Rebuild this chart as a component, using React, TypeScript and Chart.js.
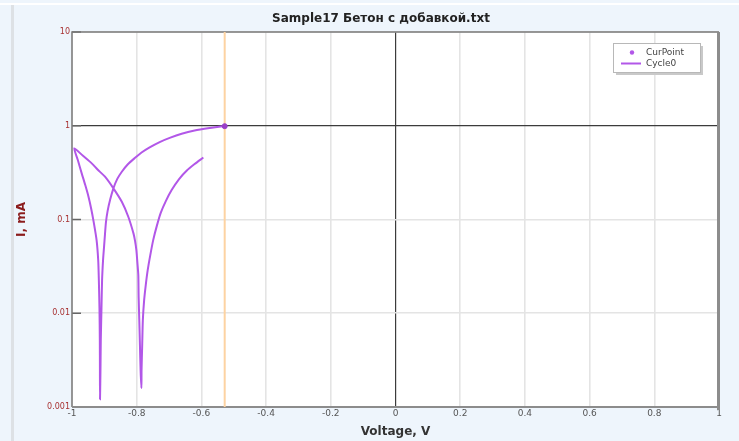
import React, { useEffect, useRef } from 'react';
import { Chart, registerables } from 'chart.js';

Chart.register(...registerables);

const chartTitle = 'Sample17 Бетон с добавкой.txt';
const xAxisTitle = 'Voltage, V';
const yAxisTitle = 'I, mA';

const xTickValues = [-1, -0.8, -0.6, -0.4, -0.2, 0, 0.2, 0.4, 0.6, 0.8, 1];
const xTickLabels = ['-1', '-0.8', '-0.6', '-0.4', '-0.2', '0', '0.2', '0.4', '0.6', '0.8', '1'];
const yTickValues = [0.001, 0.01, 0.1, 1, 10];
const yTickLabels = ['0.001', '0.01', '0.1', '1', '10'];

const legendLabels = ['CurPoint', 'Cycle0'];

// Cycle0: scan from -0.59 V toward -0.99 V and back to -0.53 V
const cycleVoltage = [
  -0.594, -0.621, -0.645, -0.669, -0.692, -0.710, -0.726, -0.738, -0.749, -0.758, -0.766, -0.772, -0.777, -0.781, -0.783, -0.785, -0.7854,
  -0.788, -0.790, -0.792, -0.794, -0.795, -0.798, -0.801, -0.805, -0.810, -0.826, -0.846, -0.872, -0.898, -0.921, -0.939, -0.967, -0.993,
  -0.982, -0.970, -0.959, -0.949, -0.941, -0.934, -0.924, -0.919, -0.917, -0.915, -0.914, -0.9137, -0.9134,
  -0.912, -0.911, -0.909, -0.907, -0.904, -0.901, -0.898, -0.895, -0.890, -0.882, -0.872, -0.860, -0.846, -0.828, -0.806, -0.785,
  -0.760, -0.729, -0.698, -0.661, -0.621, -0.574, -0.529,
];
const cycleCurrent = [
  0.458, 0.390, 0.333, 0.270, 0.206, 0.157, 0.117, 0.085, 0.0603, 0.0417, 0.0288, 0.0200, 0.0138, 0.00844, 0.00457, 0.00247, 0.00159,
  0.00247, 0.00457, 0.00844, 0.01485, 0.0255, 0.0351, 0.0471, 0.0588, 0.0711, 0.107, 0.1545, 0.215, 0.286, 0.341, 0.397, 0.481, 0.574,
  0.4305, 0.3105, 0.233, 0.175, 0.132, 0.0985, 0.0603, 0.0369, 0.0226, 0.0108, 0.00516, 0.00247, 0.00121,
  0.00247, 0.00516, 0.0108, 0.0226, 0.0369, 0.0507, 0.0699, 0.0938, 0.123, 0.163, 0.215, 0.271, 0.323, 0.386, 0.452, 0.518,
  0.588, 0.670, 0.743, 0.822, 0.889, 0.945, 0.993,
];

const curPointVoltage = [-0.528];
const curPointCurrent = [0.99];
const cursorVoltage = [-0.528, -0.528];
const cursorCurrent = [0.001, 10];

const PURPLE = '#b257e8';
const FONT = '"DejaVu Sans", Verdana, sans-serif';

const decorPlugin = {
  id: 'decor',
  beforeDraw(chart: any) {
    const { ctx, chartArea: a } = chart;
    ctx.save();
    ctx.fillStyle = '#ffffff';
    ctx.fillRect(a.left, a.top, a.right - a.left, a.bottom - a.top);
    ctx.restore();
  },
  beforeDatasetsDraw(chart: any) {
    const { ctx, chartArea: a, scales } = chart;
    ctx.save();
    ctx.strokeStyle = '#666666';
    ctx.lineWidth = 1.5;
    yTickValues.forEach((v) => {
      const y = scales.y.getPixelForValue(v);
      ctx.beginPath();
      ctx.moveTo(a.left, y);
      ctx.lineTo(a.left + 9, y);
      ctx.stroke();
    });
    ctx.strokeStyle = '#7a7a7a';
    ctx.lineWidth = 1.5;
    ctx.beginPath();
    ctx.moveTo(a.left, a.bottom);
    ctx.lineTo(a.left, a.top);
    ctx.lineTo(a.right, a.top);
    ctx.stroke();
    ctx.strokeStyle = '#8c8c8c';
    ctx.lineWidth = 2;
    ctx.beginPath();
    ctx.moveTo(a.left, a.bottom);
    ctx.lineTo(a.right, a.bottom);
    ctx.stroke();
    ctx.lineWidth = 3;
    ctx.beginPath();
    ctx.moveTo(a.right - 0.5, a.top);
    ctx.lineTo(a.right - 0.5, a.bottom + 3);
    ctx.stroke();
    ctx.restore();
  },
  afterDraw(chart: any) {
    const { ctx } = chart;
    ctx.save();
    ctx.fillStyle = '#222222';
    ctx.font = `bold 12px ${FONT}`;
    ctx.textAlign = 'center';
    ctx.textBaseline = 'middle';
    ctx.fillText(chartTitle, 381, 19);
    const bx = 613, by = 43, bw = 87, bh = 29;
    ctx.fillStyle = '#c9c9c9';
    ctx.fillRect(bx + 3, by + 3, bw, bh);
    ctx.fillStyle = '#ffffff';
    ctx.fillRect(bx, by, bw, bh);
    ctx.strokeStyle = '#b8b8b8';
    ctx.lineWidth = 1;
    ctx.strokeRect(bx + 0.5, by + 0.5, bw, bh);
    ctx.fillStyle = PURPLE;
    ctx.beginPath();
    ctx.arc(632, 52.5, 2.2, 0, Math.PI * 2);
    ctx.fill();
    ctx.strokeStyle = PURPLE;
    ctx.lineWidth = 2;
    ctx.beginPath();
    ctx.moveTo(621, 63.5);
    ctx.lineTo(641, 63.5);
    ctx.stroke();
    ctx.fillStyle = '#444444';
    ctx.font = `9px ${FONT}`;
    ctx.textAlign = 'left';
    ctx.textBaseline = 'middle';
    ctx.fillText(legendLabels[0], 646, 53);
    ctx.fillText(legendLabels[1], 646, 64);
    ctx.restore();
  },
};

export default function App() {
  const canvasRef = useRef<HTMLCanvasElement | null>(null);

  useEffect(() => {
    const canvas = canvasRef.current;
    if (!canvas) return;
    const chart = new Chart(canvas, {
      type: 'line',
      data: {
        datasets: [
          {
            label: legendLabels[0],
            data: curPointVoltage.map((v, i) => ({ x: v, y: curPointCurrent[i] })),
            borderColor: '#9a3fc8',
            backgroundColor: '#9a3fc8',
            pointRadius: 2.5,
            showLine: false,
            order: 0,
          },
          {
            label: legendLabels[1],
            data: cycleVoltage.map((v, i) => ({ x: v, y: cycleCurrent[i] })),
            borderColor: PURPLE,
            borderWidth: 2,
            pointRadius: 0,
            tension: 0.25,
            fill: false,
            order: 1,
          },
          {
            label: 'cursor',
            data: cursorVoltage.map((v, i) => ({ x: v, y: cursorCurrent[i] })),
            borderColor: '#fdd3a2',
            borderWidth: 2,
            pointRadius: 0,
            fill: false,
            order: 2,
          },
        ],
      },
      options: {
        animation: false,
        responsive: false,
        devicePixelRatio: 1,
        layout: { padding: { left: 0, top: 32, right: 20, bottom: 0 } },
        plugins: {
          legend: { display: false },
          title: { display: false },
          tooltip: { enabled: false },
        },
        scales: {
          x: {
            type: 'linear',
            min: -1,
            max: 1,
            afterFit: (s: any) => { s.height = 34; },
            afterBuildTicks: (s: any) => { s.ticks = xTickValues.map((v) => ({ value: v })); },
            ticks: {
              autoSkip: false,
              maxRotation: 0,
              padding: 1,
              color: '#555555',
              font: { family: FONT, size: 9 },
              callback: (_v: any, i: number) => xTickLabels[i],
            },
            grid: {
              drawTicks: false,
              color: (c: any) => (c.tick && c.tick.value === 0 ? '#3c3c3c' : '#e4e4e4'),
              lineWidth: (c: any) => (c.tick && c.tick.value === 0 ? 1.2 : 1.6),
            },
            border: { display: false },
            title: {
              display: true,
              text: xAxisTitle,
              color: '#333333',
              font: { family: FONT, size: 12, weight: 'bold' },
              padding: { top: 0, bottom: 2 },
            },
          },
          y: {
            type: 'logarithmic',
            min: 0.001,
            max: 10,
            afterFit: (s: any) => { s.width = 72; },
            afterBuildTicks: (s: any) => { s.ticks = yTickValues.map((v) => ({ value: v })); },
            ticks: {
              autoSkip: false,
              padding: 2,
              color: '#a83232',
              font: { family: FONT, size: 8 },
              callback: (_v: any, i: number) => yTickLabels[i],
            },
            grid: {
              drawTicks: false,
              color: (c: any) => (c.tick && c.tick.value === 1 ? '#3c3c3c' : '#e4e4e4'),
              lineWidth: (c: any) => (c.tick && c.tick.value === 1 ? 1.2 : 1.6),
            },
            border: { display: false },
            title: {
              display: true,
              text: yAxisTitle,
              color: '#8b1c1c',
              font: { family: FONT, size: 12, weight: 'bold' },
              padding: { top: 15, bottom: 0 },
            },
          },
        },
      },
      plugins: [decorPlugin],
    });
    return () => chart.destroy();
  }, []);

  return (
    <div style={{ position: 'fixed', left: 0, top: 0, width: 739, height: 441, background: '#eef5fc', overflow: 'hidden' }}>
      <div style={{ position: 'absolute', left: 0, top: 3, width: 739, height: 2, background: '#ffffff' }} />
      <div style={{ position: 'absolute', left: 11, top: 5, width: 3, height: 436, background: '#dde1e5' }} />
      <canvas ref={canvasRef} width={739} height={441} style={{ position: 'absolute', left: 0, top: 0, display: 'block' }} />
    </div>
  );
}
